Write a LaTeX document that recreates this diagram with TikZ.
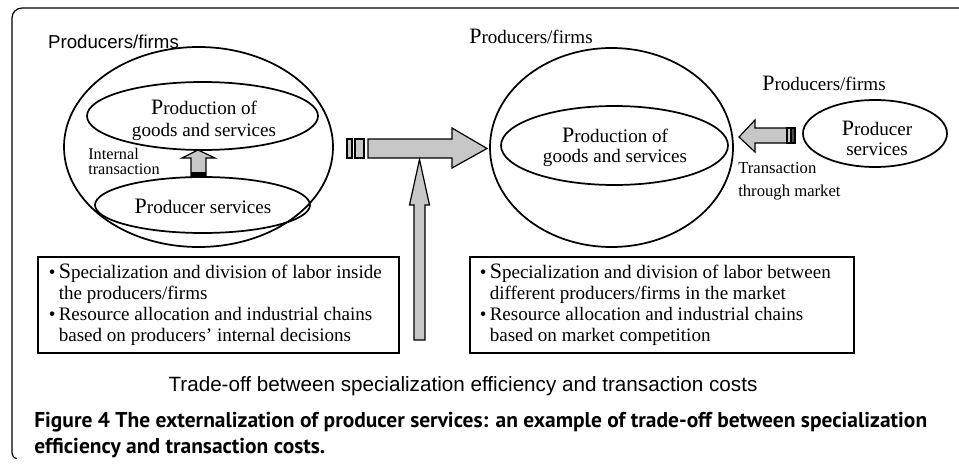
\documentclass[tikz,border=0pt]{standalone}
\usepackage{fontspec}
\setmainfont{Liberation Serif}
\newfontfamily\arialf{Liberation Sans}
\newfontfamily\capf{PT Sans}
\usetikzlibrary{shapes.geometric}
\newcommand\LgL[1]{{\fontsize{16.5}{16.5}\selectfont #1}}
\begin{document}
\begin{tikzpicture}[x=0.75pt,y=-0.75pt,
  ell/.style={draw, ellipse, line width=1.3pt, inner sep=0pt},
  txt/.style={font=\fontsize{14.3}{16.5}\selectfont, align=center, inner sep=0pt},
  smalltxt/.style={font=\fontsize{12.2}{14}\selectfont, inner sep=0pt, anchor=west},
  sanslbl/.style={font=\arialf\fontsize{14}{16}\selectfont, inner sep=0pt},
  blk/.style={fill=black!22, draw=black, line width=0.9pt, line join=miter},
  bx/.style={draw, line width=0.9pt, inner sep=0pt},
  boxtxt/.style={font=\fontsize{14.3}{15.75}\selectfont, inner sep=0pt, anchor=west},
  captxt/.style={font=\capf\bfseries\fontsize{16.1}{18}\selectfont, inner sep=0pt, anchor=west}]
\useasboundingbox (0,0) rectangle (959,467);
% frame
\draw[line width=0.9pt] (17,458.5) to[out=180,in=-90] (12,452) -- (12,18) to[out=90,in=180] (22,8) -- (962,8);

% left group
\node[ell, minimum width=201.75pt, minimum height=150pt] (lbig) at (198.5,147) {};
\node[ell, minimum width=173.25pt, minimum height=51pt] (ltop) at (202.5,116) {};
\node[ell, minimum width=161.25pt, minimum height=42pt] (lbot) at (202.5,205) {};
\node[sanslbl] (llbl) at (113.5,42) {Producers/firms};
\node[txt] (ltoptxt) at (204,120) {\LgL{P}roduction of\\goods and services};
\node[txt] (lbottxt) at (203,206) {\LgL{P}roducer services};
\node[smalltxt] (intl1) at (88,153.5) {Internal};
\node[smalltxt] (intl2) at (88,169.5) {transaction};
% internal arrow
\coordinate (ia) at (198,150);
\draw[blk] (191,177) -- (191,158) -- (182,158) -- (ia) -- (215,158) -- (206,158) -- (206,177) -- cycle;
\fill[black] (191,172) rectangle (206,177);

% right group
\node[ell, minimum width=182.25pt, minimum height=149.25pt] (rbig) at (611.5,147.5) {};
\node[ell, minimum width=170.25pt, minimum height=59.25pt] (rin) at (614.5,145.5) {};
\node[ell, minimum width=108pt, minimum height=50.25pt] (rsm) at (875,133.5) {};
\node[txt] (rlbl1) at (531,36) {\LgL{P}roducers/firms};
\node[txt] (rlbl2) at (824,83) {\LgL{P}roducers/firms};
\node[txt, font=\fontsize{14.3}{15}\selectfont] (rintxt) at (615,147) {\LgL{P}roduction of\\goods and services};
\node[txt, font=\fontsize{14.3}{15}\selectfont] (rsmtxt) at (877,138) {\LgL{P}roducer\\services};
\node[smalltxt, font=\fontsize{12.5}{14}\selectfont] (trm1) at (738,168.5) {Transaction};
\node[smalltxt, font=\fontsize{12.5}{14}\selectfont] (trm2) at (738,192.5) {through market};
% market arrow (pointing left)
\coordinate (ma) at (739,137);
\draw[blk] (787,128) -- (755,128) -- (755,120) -- (ma) -- (755,152) -- (755,143) -- (787,143) -- cycle;
\draw[blk] (787,128) rectangle (791,143);
\draw[blk, fill=black!70] (791.5,128) rectangle (795,143);

% big horizontal arrow
\draw[blk] (347,139) rectangle (352,158);
\draw[blk] (355,139) rectangle (364,158);
\coordinate (ha) at (487,148.5);
\draw[blk] (368,139) -- (452,139) -- (452,128) -- (ha) -- (452,168) -- (452,158) -- (368,158) -- cycle;
% vertical arrow
\coordinate (va) at (419.5,159.5);
\draw[blk] (414,340) -- (414,205) -- (409.5,205) -- (va) -- (429.5,205) -- (425,205) -- (425,340) -- cycle;

% text boxes
\node[bx, minimum width=270.75pt, minimum height=72pt] (lbox) at (218.5,305) {};
\node[boxtxt] (lboxtxt) at (48.5,305.5) {\begin{tabular}{@{}l@{\hspace{2.5pt}}l@{}}
\textbullet & \LgL{S}pecialization and division of labor inside\\
 & the producers/firms\\
\textbullet & Resource allocation and industrial chains\\
 & based on producers’ internal decisions
\end{tabular}};
\node[bx, minimum width=288pt, minimum height=72pt] (rbox) at (662,305) {};
\node[boxtxt] (rboxtxt) at (479.5,305.5) {\begin{tabular}{@{}l@{\hspace{2.5pt}}l@{}}
\textbullet & \LgL{S}pecialization and division of labor between\\
 & different producers/firms in the market\\
\textbullet & Resource allocation and industrial chains\\
 & based on market competition
\end{tabular}};

% bottom line
\node[font=\arialf\fontsize{15.5}{17}\selectfont, inner sep=0pt] (trade) at (463,386) {Trade-off between specialization efficiency and transaction costs};
% caption
\node[captxt] (cap1) at (34,422) {Figure 4 The externalization of producer services: an example of trade-off between specialization};
\node[captxt] (cap2) at (34,448) {efficiency and transaction costs.};
\end{tikzpicture}
\end{document}
